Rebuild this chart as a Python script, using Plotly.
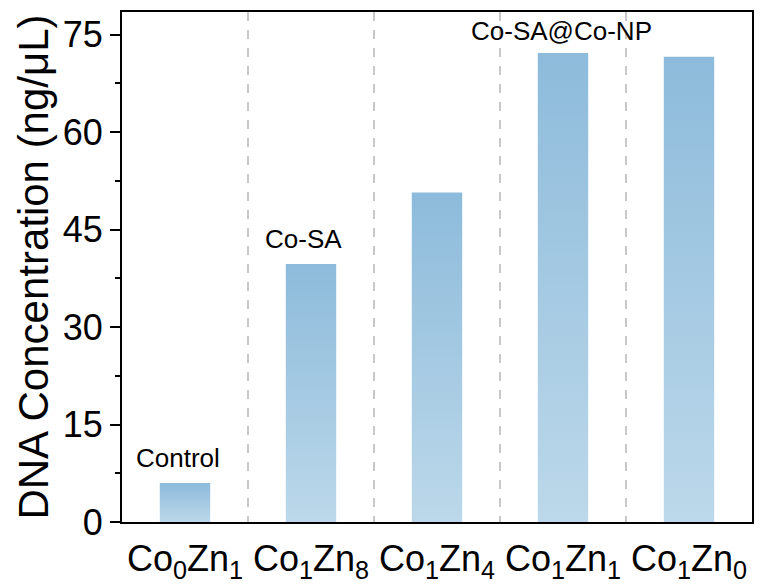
import plotly.graph_objects as go

categories = ["Co<sub>0</sub>Zn<sub>1</sub>", "Co<sub>1</sub>Zn<sub>8</sub>", "Co<sub>1</sub>Zn<sub>4</sub>",
              "Co<sub>1</sub>Zn<sub>1</sub>", "Co<sub>1</sub>Zn<sub>0</sub>"]
values = [6.0, 39.7, 50.7, 72.2, 71.6]
label_index = [0, 1, 3]
label_text = ["Control", "Co-SA", "Co-SA@Co-NP"]
label_yshift = [8, 8, 5]
label_xshift = [-7, -8, -2]

bar_width = 0.4
fig = go.Figure()
for i, v in enumerate(values):
    x0, x1 = i - bar_width / 2, i + bar_width / 2
    fig.add_trace(go.Scatter(
        x=[x0, x1, x1, x0, x0], y=[0, 0, v, v, 0],
        mode="lines", fill="toself", line=dict(width=0),
        fillgradient=dict(type="vertical",
                          colorscale=[[0, "#bcd8ea"], [1, "#8dbbdb"]]),
        hoverinfo="skip", showlegend=False))

for idx, txt, ys, xs in zip(label_index, label_text, label_yshift, label_xshift):
    fig.add_annotation(x=idx, y=values[idx], text=txt, showarrow=False,
                       yanchor="bottom", yshift=ys, xshift=xs,
                       font=dict(family="Arial, Liberation Sans", size=26, color="black"))

fig.update_layout(
    width=775, height=587, plot_bgcolor="white", paper_bgcolor="white",
    margin=dict(l=122, r=23, t=12, b=65),
    font=dict(family="Arial, Liberation Sans", color="black"),
)
fig.update_xaxes(
    range=[-0.5, 4.5], tickvals=list(range(len(categories))), ticktext=categories,
    showgrid=False, zeroline=False, showline=True, linecolor="black", linewidth=2,
    mirror=True, ticks="", tickfont=dict(size=36), automargin=False,
    ticklabelstandoff=4,
    minor=dict(tick0=0.5, dtick=1, showgrid=True, griddash="dash",
               gridcolor="#c8c8c8", gridwidth=1.5, ticks=""),
)
fig.update_yaxes(
    range=[0, 78.5], tickvals=[0, 15, 30, 45, 60, 75], showgrid=False, zeroline=False,
    showline=True, linecolor="black", linewidth=2, mirror=True,
    ticks="outside", ticklen=10, tickwidth=1.5, tickcolor="black",
    tickfont=dict(size=36), automargin=False,
    minor=dict(tickvals=[7.5, 22.5, 37.5, 52.5, 67.5], ticks="outside", ticklen=5,
               tickwidth=1.5, tickcolor="black"),
    title=dict(text="DNA Concentration (ng/μL)", font=dict(size=42), standoff=1),
)
fig.write_html("out.html")
